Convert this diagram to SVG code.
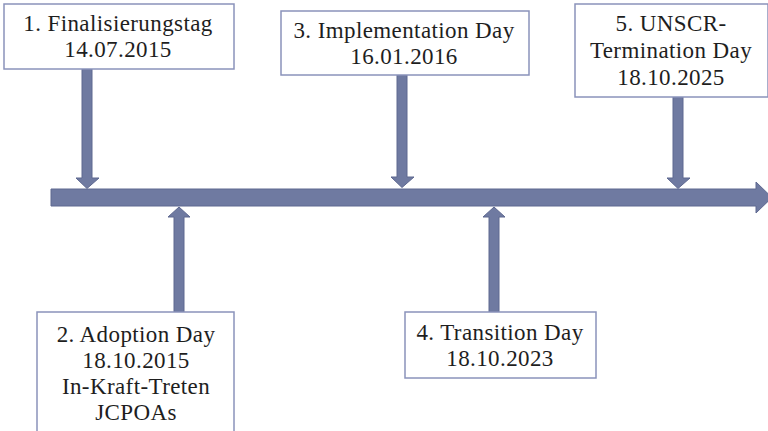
<svg xmlns="http://www.w3.org/2000/svg" width="768" height="431" viewBox="0 0 768 431">
<style>
.box{fill:#ffffff;stroke:#8a93bb;stroke-width:1.5}
.arr{fill:#6f7aa1;stroke:#5e6890;stroke-width:1}
text{font-family:"Liberation Serif","Times New Roman",serif;font-size:23px;fill:#1e1e1e;text-anchor:middle;letter-spacing:0.4px}
</style>
<rect width="768" height="431" fill="#ffffff"/>
<g id="connectors">
<path class="arr" d="M51,189 H756 V182 L772,197.5 L756,213 V206 H51 Z"/>
<path class="arr" d="M82,69 H92 V178 H99 L87,188.5 L76,178 H82 Z"/>
<path class="arr" d="M397,75 H407 V177 H414 L402,187.5 L391,177 H397 Z"/>
<path class="arr" d="M673,97 H683 V178 H690 L678,188.5 L667,178 H673 Z"/>
<path class="arr" d="M174,312 H184 V217 H190 L179,207 L168,217 H174 Z"/>
<path class="arr" d="M489,312 H499 V217 H505 L494,207 L483,217 H489 Z"/>
</g>
<g id="node1">
<rect class="box" x="4" y="4" width="230" height="65"/>
<text x="118" y="31">1. Finalisierungstag</text>
<text x="118" y="57">14.07.2015</text>
</g>
<g id="node3">
<rect class="box" x="281" y="11" width="248" height="64"/>
<text x="404" y="38">3. Implementation Day</text>
<text x="404" y="64">16.01.2016</text>
</g>
<g id="node5">
<rect class="box" x="575" y="4" width="193" height="93"/>
<text x="671" y="31">5. UNSCR-</text>
<text x="671" y="58">Termination Day</text>
<text x="671" y="85">18.10.2025</text>
</g>
<g id="node2">
<rect class="box" x="37" y="312" width="197" height="130"/>
<text x="136" y="342">2. Adoption Day</text>
<text x="136" y="368">18.10.2015</text>
<text x="136" y="394">In-Kraft-Treten</text>
<text x="136" y="420">JCPOAs</text>
</g>
<g id="node4">
<rect class="box" x="405" y="312" width="191" height="66"/>
<text x="500" y="340">4. Transition Day</text>
<text x="500" y="366">18.10.2023</text>
</g>
</svg>
